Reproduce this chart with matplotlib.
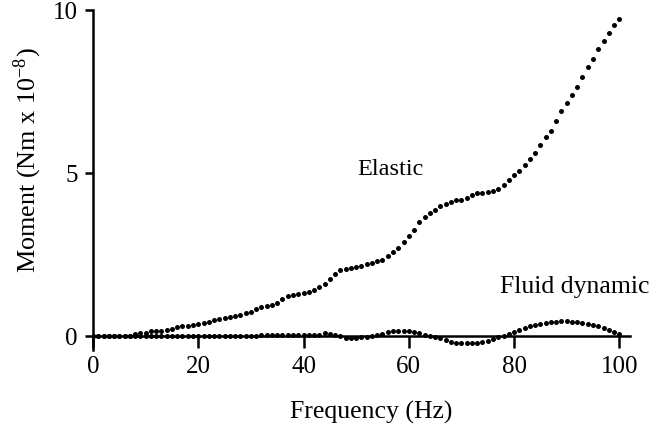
import numpy as np
import matplotlib
matplotlib.use("Agg")
import matplotlib.pyplot as plt

# frequency axis, 1 Hz steps
freq = np.arange(0, 101)

elastic = [
    0.0, 0.0, 0.0, 0.0, 0.0, 0.0, 0.0, 0.02, 0.08, 0.1,
    0.1, 0.15, 0.15, 0.15, 0.2, 0.22, 0.27, 0.3, 0.32, 0.35,
    0.38, 0.4, 0.45, 0.5, 0.52, 0.55, 0.6, 0.63, 0.66, 0.7,
    0.74, 0.82, 0.88, 0.92, 0.97, 1.03, 1.15, 1.22, 1.27, 1.3,
    1.32, 1.35, 1.42, 1.5, 1.6, 1.75, 1.9, 2.02, 2.07, 2.1,
    2.12, 2.15, 2.2, 2.25, 2.3, 2.35, 2.45, 2.58, 2.72, 2.88,
    3.08, 3.25, 3.5, 3.65, 3.78, 3.88, 3.98, 4.06, 4.12, 4.18,
    4.18, 4.24, 4.32, 4.38, 4.4, 4.43, 4.46, 4.52, 4.65, 4.78,
    4.95, 5.08, 5.24, 5.45, 5.62, 5.85, 6.1, 6.3, 6.6, 6.9,
    7.15, 7.4, 7.65, 7.95, 8.25, 8.5, 8.8, 9.05, 9.3, 9.55,
    9.72,
]

fluid = [
    0.02, 0.02, 0.02, 0.02, 0.02, 0.02, 0.02, 0.02, 0.02, 0.02,
    0.02, 0.02, 0.02, 0.02, 0.02, 0.02, 0.02, 0.02, 0.02, 0.02,
    0.02, 0.02, 0.02, 0.02, 0.02, 0.02, 0.02, 0.02, 0.02, 0.02,
    0.02, 0.02, 0.03, 0.03, 0.03, 0.03, 0.03, 0.03, 0.03, 0.03,
    0.03, 0.03, 0.03, 0.05, 0.1, 0.08, 0.04, 0.0, -0.05, -0.07,
    -0.06, -0.04, -0.02, 0.0, 0.03, 0.08, 0.13, 0.15, 0.15, 0.15,
    0.15, 0.14, 0.1, 0.05, 0.02, -0.02, -0.06, -0.12, -0.17, -0.2,
    -0.2, -0.2, -0.2, -0.2, -0.18, -0.14, -0.1, -0.03, 0.02, 0.07,
    0.13, 0.2, 0.25, 0.3, 0.33, 0.37, 0.4, 0.43, 0.45, 0.46,
    0.46, 0.45, 0.43, 0.4, 0.36, 0.33, 0.3, 0.26, 0.2, 0.14,
    0.08,
]

xticks = [0, 20, 40, 60, 80, 100]
yticks = [0, 5, 10]

plt.rcParams["font.family"] = ["Liberation Serif", "DejaVu Serif"]
plt.rcParams["mathtext.fontset"] = "stix"

fig = plt.figure(figsize=(6.52, 4.25), dpi=100)
ax = fig.add_axes([0.1426, 0.176, 0.966 - 0.1426, 0.976 - 0.176])

ax.plot(freq, elastic, "o", color="black", markersize=3.6, markeredgewidth=0)
ax.plot(freq, fluid, "o", color="black", markersize=3.6, markeredgewidth=0)

ax.set_xlim(0, 102)
ax.set_ylim(-0.43, 10.0)

ax.spines["top"].set_visible(False)
ax.spines["right"].set_visible(False)
ax.spines["bottom"].set_position(("data", 0))
for s in ("left", "bottom"):
    ax.spines[s].set_linewidth(1.8)

ax.set_xticks(xticks)
ax.set_yticks(yticks)
ax.tick_params(axis="x", direction="out", length=8.5, width=1.8, labelsize=18, pad=6)
ax.tick_params(axis="y", direction="out", length=6, width=1.8, labelsize=18, pad=5)

ax.set_xlabel("Frequency (Hz)", fontsize=18.5)
ax.xaxis.label.set_verticalalignment("baseline")
ax.xaxis.set_label_coords(0.518, -0.202)

ax.set_ylabel("Moment (Nm x 10$^{\\mathregular{-8}}$)", fontsize=18.8)
ax.yaxis.label.set_verticalalignment("center")
ax.yaxis.set_label_coords(-0.121, 0.559)

ax.text(50.2, 5.1, "Elastic", fontsize=17.5, ha="left", va="center")
ax.text(77.4, 1.5, "Fluid dynamic", fontsize=18.5, ha="left", va="center")

fig.savefig("out.png", dpi=100)
